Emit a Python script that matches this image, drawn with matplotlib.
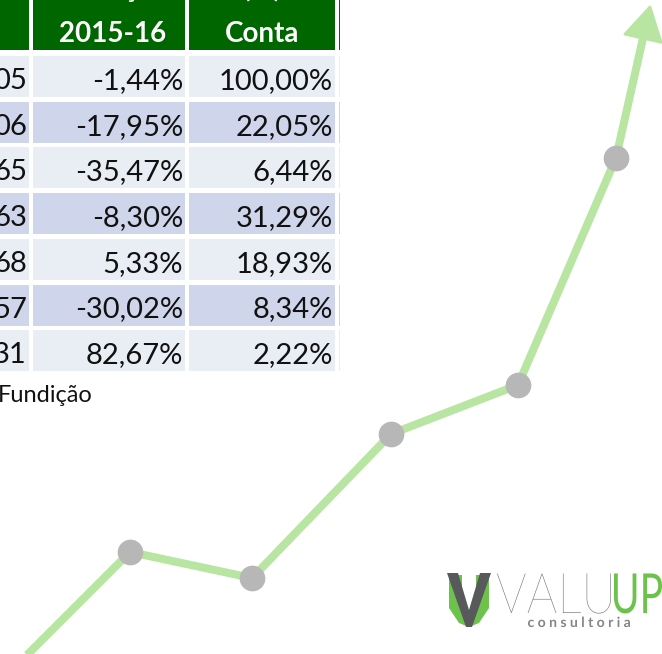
import matplotlib.pyplot as plt
from matplotlib.patches import Rectangle, Polygon, PathPatch
from matplotlib.textpath import TextPath
from matplotlib.font_manager import FontProperties
from matplotlib.transforms import Affine2D

plt.rcParams['font.family'] = ['Lato', 'DejaVu Sans']

# dados da tabela (recorte)
col_a = ["05", "06", "65", "63", "68", "57", "31"]
var_15_16 = ["-1,44%", "-17,95%", "-35,47%", "-8,30%", "5,33%", "-30,02%", "82,67%"]
part_conta = ["100,00%", "22,05%", "6,44%", "31,29%", "18,93%", "8,34%", "2,22%"]
header_b = ["Variação", "2015-16"]
header_c = ["(%)", "Conta"]
fonte = "Fundição"

# linha decorativa (pixels da imagem, y de cima para baixo)
line_x = [0, 130, 252, 391, 518, 616]
line_y = [682, 552, 578, 434, 385, 158]
tip = (650, 7)

GREEN_HDR = '#006600'
ROW_LIGHT = '#e9edf4'
ROW_DARK = '#cfd5ea'
LINE_C = '#b8e6a2'
DOT_C = '#b7b7b7'

fig = plt.figure(figsize=(6.62, 6.54), dpi=100)
ax = fig.add_axes([0, 0, 1, 1])
ax.set_xlim(0, 662)
ax.set_ylim(654, 0)
ax.axis('off')

# colunas da tabela
cols = [(-120, 29), (33, 185), (189, 335), (338.5, 400)]
row_top0, row_pitch, row_h = 56, 45.7, 41

for x0, x1 in cols:
    ax.add_patch(Rectangle((x0, -60), x1 - x0, 110, color=GREEN_HDR, lw=0, zorder=1))
    for i in range(len(col_a)):
        c = ROW_LIGHT if i % 2 == 0 else ROW_DARK
        ax.add_patch(Rectangle((x0, row_top0 + i * row_pitch), x1 - x0, row_h,
                               color=c, lw=0, zorder=1))
# tampa a sobra da quarta coluna
ax.add_patch(Rectangle((340, -60), 400, 460, color='white', lw=0, zorder=1.5))

# cabeçalho
for xc, hdr in [(113, header_b), (262, header_c)]:
    ax.text(xc, -3, hdr[0], ha='center', va='baseline', color='white',
            fontsize=20, fontweight='bold', zorder=3)
    ax.text(xc, 42, hdr[1], ha='center', va='baseline', color='white',
            fontsize=20, fontweight='bold', zorder=3)

for i in range(len(col_a)):
    yb = row_top0 + i * row_pitch + 33
    ax.text(27, yb, col_a[i], ha='right', va='baseline', fontsize=21, color='#111111', zorder=3)
    ax.text(183, yb, var_15_16[i], ha='right', va='baseline', fontsize=21, color='#111111', zorder=3)
    ax.text(333, yb, part_conta[i], ha='right', va='baseline', fontsize=21, color='#111111', zorder=3)

ax.text(-2, 402, fonte, ha='left', va='baseline', fontsize=17, color='#111111', zorder=3)

# linha com seta
dx, dy = tip[0] - line_x[-1], tip[1] - line_y[-1]
L = (dx ** 2 + dy ** 2) ** 0.5
ux, uy = dx / L, dy / L
head_len, head_half = 32, 18.5
bx, by = tip[0] - head_len * ux, tip[1] - head_len * uy
ax.plot(line_x + [bx + 4 * ux], line_y + [by + 4 * uy], color=LINE_C, lw=5.8,
        solid_joinstyle='round', solid_capstyle='butt', zorder=4)
ax.add_patch(Polygon([tip, (bx + head_half * uy, by - head_half * ux),
                      (bx - head_half * uy, by + head_half * ux)],
                     closed=True, facecolor=LINE_C, edgecolor=LINE_C, lw=2,
                     joinstyle='round', zorder=4))
ax.plot(line_x[1:], line_y[1:], 'o', color=DOT_C, markersize=18.5, mec='none', zorder=5)


# logo
def logo_text(s, x0, x1, base, cap, color, weight):
    tp = TextPath((0, 0), s, size=100, prop=FontProperties(family='Lato', weight=weight))
    ext = tp.get_extents()
    sx = (x1 - x0) / ext.width
    sy = cap / ext.height
    tr = Affine2D().translate(-ext.x0, 0).scale(sx, -sy).translate(x0, base)
    ax.add_patch(PathPatch(tr.transform_path(tp), facecolor=color, edgecolor='none', zorder=6))


ax.add_patch(Polygon([(449, 575), (462, 575), (462, 606), (469, 614), (476, 606),
                      (476, 575), (489, 575), (489, 608), (479, 623), (469, 627),
                      (459, 623), (449, 608)], closed=True, facecolor='#6cc24a',
                     edgecolor='none', zorder=6))
ax.add_patch(Polygon([(447, 573), (458, 573), (469, 610), (480, 573), (491, 573),
                      (472, 627), (466, 627)], closed=True, facecolor='#58595b',
                     edgecolor='none', zorder=7))
logo_text("VALU", 497, 611, 613, 40, '#6d6e71', 'light')
logo_text("UP", 614, 662, 613, 40, '#6cc24a', 'normal')
logo_text("c o n s u l t o r i a", 528, 630, 627, 10.5, '#858585', 'bold')

fig.savefig('out.png', dpi=100)
